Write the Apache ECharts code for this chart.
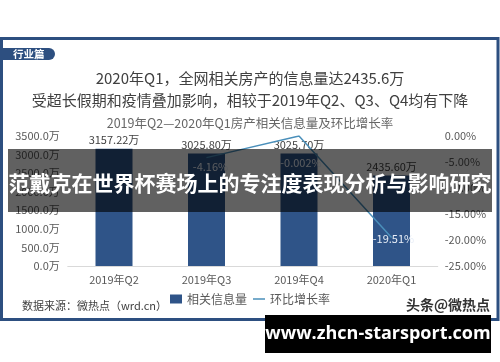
<!DOCTYPE html>
<html>
<head>
<meta charset="utf-8">
<script src="https://cdn.jsdelivr.net/npm/echarts@6/dist/echarts.min.js"></script>
<style>
html,body{margin:0;padding:0;background:#fff;}
#chart{width:500px;height:362px;}
</style>
</head>
<body>
<div id="chart"></div>
<script>
// ---- data ----
const categories = ['2019年Q2', '2019年Q3', '2019年Q4', '2020年Q1'];
const infoVolume = [3157.22, 3025.80, 3025.70, 2435.60];
const growthRate = [null, -4.16, -0.002, -19.51];
const leftTicks = { min: 0, max: 3500, interval: 500 };
const rightTicks = { min: -25, max: 0, interval: 5 };
const seriesNames = ['相关信息量', '环比增长率'];
const titleLines = ['2020年Q1，全网相关房产的信息量达2435.6万', '受超长假期和疫情叠加影响，相较于2019年Q2、Q3、Q4均有下降'];
const subTitle = '2019年Q2—2020年Q1房产相关信息量及环比增长率';
const sourceText = '数据来源：微热点（wrd.cn）';
const tabText = '行业篇';
const bannerText = '范戴克在世界杯赛场上的专注度表现分析与影响研究';
const siteText = 'www.zhcn-starsport.com';
const watermarkText = '头条@微热点';

// ---- styling ----
const FONT = '"Noto Sans CJK SC", "Noto Sans", sans-serif';
const LINE_COLOR = '#4a8fba';
const lineLabelOffsets = [[0, 0], [4, 9], [2, 27], [2, 1]];

const chart = echarts.init(document.getElementById('chart'), null, { renderer: 'canvas' });

const lineData = growthRate.map((v, i) => ({
  value: v,
  label: { offset: lineLabelOffsets[i] }
}));

const option = {
  backgroundColor: '#ffffff',
  animation: false,
  textStyle: { fontFamily: FONT },
  title: [
    { text: titleLines[0], left: 'center', top: 66, textStyle: { fontSize: 15, fontWeight: 'normal', color: '#404040', fontFamily: FONT } },
    { text: titleLines[1], left: 'center', top: 88, textStyle: { fontSize: 15, fontWeight: 'normal', color: '#404040', fontFamily: FONT } },
    { text: subTitle, left: 'center', top: 112, textStyle: { fontSize: 12.5, fontWeight: 'normal', color: '#666666', fontFamily: FONT } }
  ],
  grid: { left: 67.75, right: 62.25, top: 136, bottom: 96 },
  legend: {
    data: [
      { name: seriesNames[0], icon: 'rect' },
      { name: seriesNames[1], icon: 'path://M0,0 H12 V1.5 H0 Z', itemStyle: { color: LINE_COLOR, opacity: 1 } }
    ],
    left: 'center',
    top: 288,
    itemWidth: 12,
    itemHeight: 9,
    itemGap: 6,
    textStyle: { fontSize: 12, color: '#595959', fontFamily: FONT }
  },
  xAxis: {
    type: 'category',
    data: categories,
    axisLine: { lineStyle: { color: '#d9d9d9', width: 1 } },
    axisTick: { show: false },
    axisLabel: { color: '#595959', fontSize: 11, margin: 8, fontFamily: FONT }
  },
  yAxis: [
    {
      type: 'value', min: leftTicks.min, max: leftTicks.max, interval: leftTicks.interval,
      splitLine: { show: false },
      axisLine: { show: false }, axisTick: { show: false },
      axisLabel: { color: '#595959', fontSize: 11, margin: 8, fontFamily: FONT, formatter: v => v.toFixed(1) + '万' }
    },
    {
      type: 'value', min: rightTicks.min, max: rightTicks.max, interval: rightTicks.interval,
      splitLine: { show: false },
      axisLine: { show: false }, axisTick: { show: false },
      axisLabel: { color: '#595959', fontSize: 11, margin: 7, fontFamily: FONT, formatter: v => v.toFixed(2) + '%' }
    }
  ],
  series: [
    {
      name: seriesNames[0],
      type: 'bar',
      data: infoVolume,
      barWidth: 37,
      itemStyle: { color: '#2f5488' },
      label: {
        show: true, position: 'top', distance: 3,
        color: '#404040', fontSize: 11, fontFamily: FONT,
        formatter: p => p.value.toFixed(2) + '万'
      }
    },
    {
      name: seriesNames[1],
      type: 'line',
      yAxisIndex: 1,
      data: lineData,
      symbol: 'circle',
      symbolSize: 0.5,
      showSymbol: true,
      connectNulls: false,
      lineStyle: { color: LINE_COLOR, width: 1.5 },
      itemStyle: { color: LINE_COLOR },
      z: 5,
      label: {
        show: true, position: 'inside',
        color: '#e8eef7', fontSize: 11, fontFamily: FONT,
        formatter: p => (p.value == null ? '' : String(p.value) + '%')
      }
    }
  ],
  graphic: [
    { type: 'rect', z: 50, shape: { x: 1.5, y: 38.5, width: 496.5, height: 281 }, style: { fill: null, stroke: '#2d4f80', lineWidth: 3 } },
    { type: 'rect', z: 50, shape: { x: 0, y: 48, width: 55, height: 12, r: [0, 6, 6, 0] }, style: { fill: '#2d4f80' } },
    { type: 'text', z: 51, style: { text: tabText, x: 13, y: 54, textVerticalAlign: 'middle', fill: '#ffffff', fontSize: 10.5, fontFamily: FONT, fontWeight: 'bold' } },
    { type: 'text', z: 51, style: { text: sourceText, x: 22, y: 306, textVerticalAlign: 'middle', fill: '#404040', fontSize: 11, fontFamily: FONT } },
    { type: 'text', z: 51, style: { text: watermarkText, x: 490, y: 305, textAlign: 'right', textVerticalAlign: 'middle', fill: '#333333', fontSize: 14, fontWeight: 'bold', fontFamily: FONT } },
    { type: 'rect', z: 100, shape: { x: 8, y: 149, width: 484, height: 63 }, style: { fill: 'rgba(0,0,0,0.62)' } },
    { type: 'text', z: 101, style: { text: bannerText, x: 250, y: 183, textAlign: 'center', textVerticalAlign: 'middle', fill: '#ffffff', fontSize: 21, fontWeight: 'bold', fontFamily: FONT } },
    { type: 'rect', z: 100, shape: { x: 265, y: 315, width: 226, height: 38 }, style: { fill: '#000000' } },
    { type: 'text', z: 101, style: { text: siteText, x: 378, y: 334, textAlign: 'center', textVerticalAlign: 'middle', fill: '#ffffff', fontSize: 18, fontWeight: 'bold', fontFamily: '"Open Sans", sans-serif' } }
  ]
};

chart.setOption(option);
</script>
</body>
</html>
